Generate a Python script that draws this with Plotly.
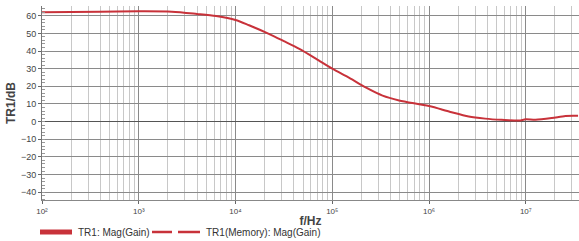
import plotly.graph_objects as go

freq_hz = [1e2, 4e2, 1e3, 2.2e3, 4e3, 6.3e3, 1e4, 1.38e4, 2.24e4, 3.16e4, 4.57e4,
           6.76e4, 1e5, 1.5e5, 2.24e5, 3.31e5, 4.9e5, 1e6, 1.66e6, 2.57e6, 3.8e6,
           5.62e6, 8.5e6, 1e7, 1.26e7, 1.86e7, 2.57e7, 3.47e7]
gain_db = [62.0, 62.2, 62.5, 62.3, 61.0, 59.8, 57.6, 54.6, 49.6, 45.6, 41.2,
           35.7, 30.0, 24.8, 19.2, 14.7, 12.0, 8.8, 5.5, 2.9, 1.7,
           1.0, 0.6, 1.3, 1.0, 2.0, 3.2, 3.3]

y_ticks = [-40, -30, -20, -10, 0, 10, 20, 30, 40, 50, 60]
x_tick_vals = [1e2, 1e3, 1e4, 1e5, 1e6, 1e7]
x_tick_text = ["10²", "10³", "10⁴", "10⁵", "10⁶", "10⁷"]
legend_names = ["TR1: Mag(Gain)", "TR1(Memory): Mag(Gain)"]

red = "#c8323a"

minor_vals = [m * 10 ** e for e in range(2, 8) for m in range(2, 10)]

fig = go.Figure()
fig.add_trace(go.Scatter(x=freq_hz, y=gain_db, mode="lines",
                         line=dict(color=red, width=2, shape="spline", smoothing=0.8),
                         showlegend=False, hoverinfo="skip"))

fig.update_layout(
    width=579, height=241,
    margin=dict(l=42, r=0, t=6, b=41),
    paper_bgcolor="white", plot_bgcolor="white",
    font=dict(family="Liberation Sans, Arial, sans-serif", color="#333333"),
    showlegend=False,
    hovermode=False,
)
fig.update_xaxes(
    type="log", range=[2, 7.55],
    tickvals=x_tick_vals, ticktext=x_tick_text,
    tickfont=dict(size=8, color="#444444"),
    showgrid=True, gridcolor="#8a8a8a", gridwidth=1,
    minor=dict(tickvals=minor_vals, showgrid=True, gridcolor="#c8c8c8", gridwidth=1, ticks=""),
    ticks="outside", ticklen=3, tickcolor="#666666",
    showline=True, linecolor="#888888", linewidth=1, mirror=False,
    zeroline=False,
    title=dict(text="<b>f/Hz</b>", font=dict(size=12, color="#444444"), standoff=2),
)
fig.update_yaxes(
    range=[-44.4, 65.5],
    tickvals=y_ticks,
    tickfont=dict(size=9, color="#444444"),
    showgrid=True, gridcolor="#8a8a8a", gridwidth=1,
    zeroline=True, zerolinecolor="#555555", zerolinewidth=1,
    ticks="outside", ticklen=3, tickcolor="#666666",
    minor=dict(dtick=2, ticks="inside", ticklen=3, tickcolor="#999999", showgrid=False),
    showline=True, linecolor="#777777", linewidth=1, mirror=True,
    title=dict(text="<b>TR1/dB</b>", font=dict(size=12, color="#444444"), standoff=2),
)

# legend drawn at bottom
ly = -32 / 194
fig.add_shape(type="line", xref="paper", yref="paper", x0=(40 - 42) / 537, x1=(72 - 42) / 537,
              y0=ly, y1=ly, line=dict(color=red, width=5))
fig.add_annotation(xref="paper", yref="paper", x=(76 - 42) / 537, y=ly,
                   text=legend_names[0], showarrow=False, xanchor="left", yanchor="middle",
                   font=dict(size=10, color="#333333"))
for xa, xb in [(152, 172), (178, 200)]:
    fig.add_shape(type="line", xref="paper", yref="paper", x0=(xa - 42) / 537, x1=(xb - 42) / 537,
                  y0=ly, y1=ly, line=dict(color=red, width=2.5))
fig.add_annotation(xref="paper", yref="paper", x=(204 - 42) / 537, y=ly,
                   text=legend_names[1], showarrow=False, xanchor="left", yanchor="middle",
                   font=dict(size=10, color="#333333"))

fig.write_html("out.html", config={"displayModeBar": False},
               post_script="document.body.style.margin='0';document.body.style.overflow='hidden';")
